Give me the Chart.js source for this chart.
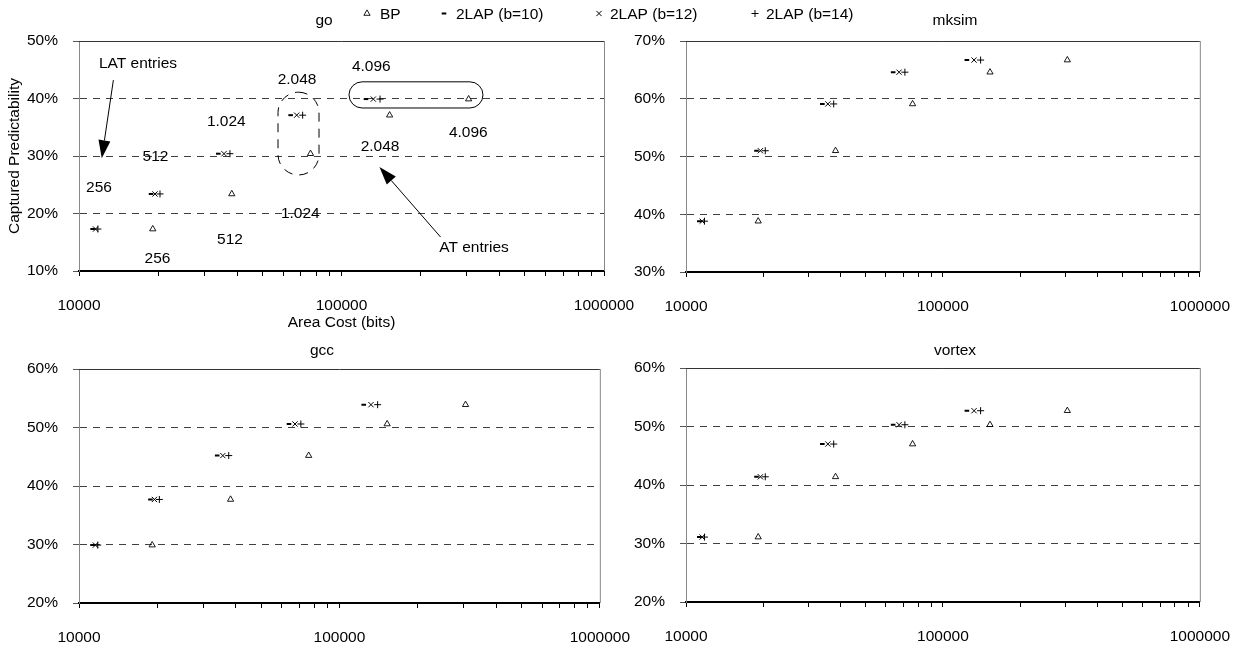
<!DOCTYPE html>
<html>
<head>
<meta charset="utf-8">
<script src="https://cdn.jsdelivr.net/npm/chart.js@4.4.1/dist/chart.umd.min.js"></script>
<style>
  html, body { margin: 0; padding: 0; background: #fff; }
  #wrap { position: relative; width: 1250px; height: 650px; overflow: hidden; }
  canvas { position: absolute; }
</style>
</head>
<body>
<div id="wrap">
  <canvas id="go" width="900" height="335" style="left:0;top:0"></canvas>
  <canvas id="mksim" width="650" height="330" style="left:600px;top:0"></canvas>
  <canvas id="gcc" width="650" height="320" style="left:0;top:330px"></canvas>
  <canvas id="vortex" width="650" height="320" style="left:600px;top:330px"></canvas>
</div>
<script>
// --- DATA ---
const seriesNames = ['BP', '2LAP (b=10)', '2LAP (b=12)', '2LAP (b=14)'];
const entryLabels = ['256', '512', '1.024', '2.048', '4.096'];

// area cost (bits) for 256 .. 4096 entries
const areaBP = [19100, 38200, 76200, 152500, 305000];
const areaB10 = [11270, 18810, 33940, 64020, 123960];
const areaB12 = [11560, 19480, 35670, 67500, 132200];
const areaB14 = [11800, 20350, 37580, 71120, 140200];

// captured predictability (%) for 256 .. 4096 entries
const predGo = [17.3, 23.4, 30.4, 37.1, 39.9];
const predMksim = [38.8, 51.0, 59.1, 64.6, 66.7];
const predGcc = [29.9, 37.7, 45.2, 50.6, 53.9];
const predVortex = [31.1, 41.4, 47.0, 50.3, 52.7];

const xTicks = [10000, 20000, 30000, 40000, 50000, 60000, 70000, 80000, 90000,
  100000, 200000, 300000, 400000, 500000, 600000, 700000, 800000, 900000, 1000000];
const xLabelTicks = [10000, 100000, 1000000];
const yRangeGo = [10, 50];
const yRangeMksim = [30, 70];
const yRangeGcc = [20, 60];
const yRangeVortex = [20, 60];

// --- ANNOTATIONS (go panel, in data coordinates) ---
const latTextX = [11920, 19560, 36400, 67700, 129900];
const latTextY = [24.5, 29.8, 36.0, 43.3, 45.6];
const atTextX = [19900, 37600, 69660, 140200, 304100];
const atTextY = [12.2, 15.4, 20.0, 31.7, 34.0];
const latArrow = [13520, 43.2, 12210, 29.6];
const atArrow = [238500, 15.9, 139500, 28.1];
const dashedBox = [57300, 82100, 41.1, 26.7];
const solidBox = [106800, 345900, 42.9, 38.35];

const FONT = '"Liberation Sans", Arial, sans-serif';
const FSIZE = 15.5;
Chart.defaults.font.family = FONT;
Chart.defaults.font.size = FSIZE;
Chart.defaults.color = '#000';

function points(xs, ys) {
  return xs.map((x, i) => ({ x: x, y: ys[i] }));
}

// draws the plot frame (top and right edges) and the panel title
const framePlugin = {
  id: 'frame',
  beforeDatasetsDraw(chart, args, opts) {
    const { ctx, chartArea: a } = chart;
    ctx.save();
    ctx.lineWidth = 1;
    ctx.strokeStyle = '#333';
    ctx.beginPath();
    ctx.moveTo(a.left, a.top + 0.5);
    ctx.lineTo(a.right, a.top + 0.5);
    ctx.stroke();
    ctx.strokeStyle = '#888';
    ctx.beginPath();
    ctx.moveTo(a.right + 0.5, a.top);
    ctx.lineTo(a.right + 0.5, a.bottom);
    ctx.stroke();
    ctx.restore();
  },
  afterDraw(chart, args, opts) {
    const ctx = chart.ctx;
    ctx.save();
    ctx.font = FSIZE + 'px ' + FONT;
    ctx.fillStyle = '#000';
    ctx.textAlign = 'center';
    ctx.textBaseline = 'alphabetic';
    ctx.fillText(opts.text, opts.x, opts.y);
    ctx.restore();
  }
};

function drawMarker(ctx, style, x, y) {
  ctx.beginPath();
  if (style === 'triangle') {
    ctx.lineWidth = 0.9;
    ctx.moveTo(x, y - 3.6);
    ctx.lineTo(x + 3.1, y + 1.8);
    ctx.lineTo(x - 3.1, y + 1.8);
    ctx.closePath();
  } else if (style === 'line') {
    ctx.lineWidth = 2;
    ctx.moveTo(x - 2.3, y);
    ctx.lineTo(x + 2.3, y);
  } else if (style === 'crossRot') {
    ctx.lineWidth = 1;
    ctx.moveTo(x - 2.6, y - 2.6); ctx.lineTo(x + 2.6, y + 2.6);
    ctx.moveTo(x + 2.6, y - 2.6); ctx.lineTo(x - 2.6, y + 2.6);
  } else {
    ctx.lineWidth = 1;
    ctx.moveTo(x - 3.5, y); ctx.lineTo(x + 3.5, y);
    ctx.moveTo(x, y - 3.5); ctx.lineTo(x, y + 3.5);
  }
  ctx.stroke();
}

function drawArrow(ctx, x1, y1, x2, y2) {
  const a = Math.atan2(y2 - y1, x2 - x1), len = 18, hw = 6;
  const bx = x2 - Math.cos(a) * len, by = y2 - Math.sin(a) * len;
  ctx.beginPath();
  ctx.moveTo(x1, y1);
  ctx.lineTo(bx, by);
  ctx.stroke();
  ctx.beginPath();
  ctx.moveTo(x2, y2);
  ctx.lineTo(bx + Math.sin(a) * hw, by - Math.cos(a) * hw);
  ctx.lineTo(bx - Math.sin(a) * hw, by + Math.cos(a) * hw);
  ctx.closePath();
  ctx.fill();
}

function drawCapsule(ctx, xs, ys, b, dash) {
  const x1 = xs.getPixelForValue(b[0]), x2 = xs.getPixelForValue(b[1]);
  const y1 = ys.getPixelForValue(b[2]), y2 = ys.getPixelForValue(b[3]);
  const w = x2 - x1, h = y2 - y1;
  ctx.setLineDash(dash);
  ctx.beginPath();
  ctx.roundRect(x1, y1, w, h, Math.min(w, h) / 2);
  ctx.stroke();
  ctx.setLineDash([]);
}

// legend and the LAT / AT annotations of the go panel
const goNotes = {
  id: 'goNotes',
  afterDraw(chart) {
    const { ctx, scales: { x, y } } = chart;
    ctx.save();
    ctx.font = FSIZE + 'px ' + FONT;
    ctx.fillStyle = '#000';
    ctx.strokeStyle = '#000';

    // legend
    const styles = ['triangle', 'line', 'crossRot', 'cross'];
    const mx = [367, 444, 599, 755];
    const tx = [380, 456, 610, 766];
    ctx.textAlign = 'left';
    ctx.textBaseline = 'alphabetic';
    seriesNames.forEach((name, i) => {
      drawMarker(ctx, styles[i], mx[i], 13.5);
      ctx.fillText(name, tx[i], 19);
    });

    // entry count labels
    ctx.textAlign = 'center';
    ctx.textBaseline = 'middle';
    entryLabels.forEach((t, i) => {
      ctx.fillText(t, x.getPixelForValue(latTextX[i]), y.getPixelForValue(latTextY[i]));
      ctx.fillText(t, x.getPixelForValue(atTextX[i]), y.getPixelForValue(atTextY[i]));
    });
    ctx.fillText('LAT entries', x.getPixelForValue(16780), y.getPixelForValue(46.1));
    ctx.fillText('AT entries', x.getPixelForValue(319800), y.getPixelForValue(14.05));

    // arrows
    ctx.lineWidth = 1;
    drawArrow(ctx, x.getPixelForValue(latArrow[0]), y.getPixelForValue(latArrow[1]),
      x.getPixelForValue(latArrow[2]), y.getPixelForValue(latArrow[3]));
    drawArrow(ctx, x.getPixelForValue(atArrow[0]), y.getPixelForValue(atArrow[1]),
      x.getPixelForValue(atArrow[2]), y.getPixelForValue(atArrow[3]));

    // groups
    drawCapsule(ctx, x, y, dashedBox, [9, 7]);
    drawCapsule(ctx, x, y, solidBox, []);
    ctx.restore();
  }
};

function makePanel(id, title, pred, yRange, box, isGo) {
  const canvas = document.getElementById(id);
  const ds = (label, xs, style, r, bw) => ({
    label: label,
    data: points(xs, pred),
    pointStyle: style,
    pointRadius: r,
    pointBorderWidth: bw,
    borderColor: '#000',
    backgroundColor: 'rgba(0,0,0,0)',
    showLine: false
  });

  return new Chart(canvas, {
    type: 'scatter',
    data: {
      datasets: [
        ds(seriesNames[0], areaBP, 'triangle', 3.6, 0.9),
        ds(seriesNames[1], areaB10, 'line', 2.3, 2),
        ds(seriesNames[2], areaB12, 'crossRot', 3.7, 1),
        ds(seriesNames[3], areaB14, 'cross', 3.5, 1)
      ]
    },
    options: {
      responsive: false,
      animation: false,
      devicePixelRatio: 1,
      layout: { padding: { left: 0, top: box.top, right: box.right, bottom: 0 } },
      scales: {
        x: {
          type: 'logarithmic',
          min: 10000,
          max: 1000000,
          afterBuildTicks: (s) => { s.ticks = xTicks.map((v) => ({ value: v })); },
          afterFit: (s) => { s.height = box.xHeight; },
          ticks: {
            autoSkip: false,
            maxRotation: 0,
            padding: 20,
            callback: (v) => (xLabelTicks.includes(v) ? String(v) : '')
          },
          grid: { drawOnChartArea: false, tickLength: 5, tickColor: '#000', lineWidth: 1 },
          border: { color: '#000', width: 2 },
          title: {
            display: isGo,
            text: 'Area Cost (bits)',
            padding: { top: 0, bottom: 3 }
          }
        },
        y: {
          min: yRange[0],
          max: yRange[1],
          afterFit: (s) => { s.width = box.yWidth; },
          ticks: { stepSize: 10, padding: 15, callback: (v) => v + '%' },
          grid: {
            color: (c) => (c.tick && (c.tick.value === yRange[0] || c.tick.value === yRange[1]) ? 'rgba(0,0,0,0)' : '#404040'),
            tickColor: '#555',
            tickLength: 6,
            lineWidth: 1
          },
          border: { color: '#888', width: 1, dash: [7, 6] },
          title: {
            display: isGo,
            text: 'Captured Predictability',
            padding: { top: 5, bottom: 0 }
          }
        }
      },
      plugins: {
        legend: { display: false },
        tooltip: { enabled: false },
        frame: { text: title, x: box.titleX, y: box.titleY }
      }
    },
    plugins: isGo ? [framePlugin, goNotes] : [framePlugin]
  });
}

makePanel('go', 'go', predGo, yRangeGo,
  { top: 41, right: 296, yWidth: 79, xHeight: 64, titleX: 324, titleY: 25 }, true);
makePanel('mksim', 'mksim', predMksim, yRangeMksim,
  { top: 41, right: 39, yWidth: 86, xHeight: 58, titleX: 355, titleY: 25 }, false);
makePanel('gcc', 'gcc', predGcc, yRangeGcc,
  { top: 39, right: 46, yWidth: 79, xHeight: 47, titleX: 322, titleY: 25 }, false);
makePanel('vortex', 'vortex', predVortex, yRangeVortex,
  { top: 38, right: 39, yWidth: 86, xHeight: 48, titleX: 355, titleY: 25 }, false);
</script>
</body>
</html>
